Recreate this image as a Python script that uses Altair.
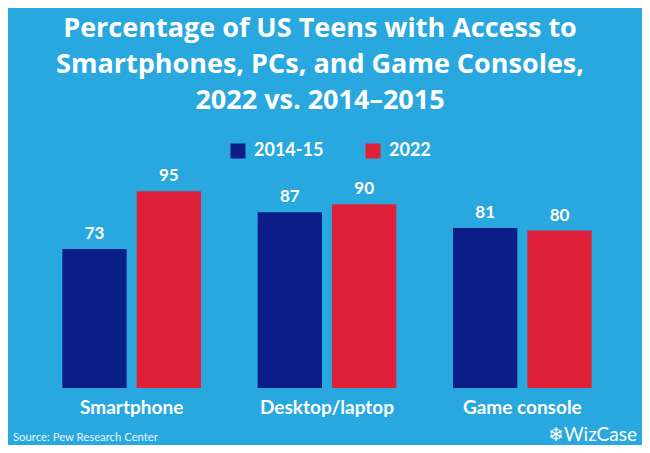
import altair as alt
import pandas as pd

categories = ["Smartphone", "Desktop/laptop", "Game console"]
years = ["2014-15", "2022"]
values_2014_15 = [73, 87, 81]
values_2022 = [95, 90, 80]

title_lines = ["Percentage of US Teens with Access to",
               "Smartphones, PCs, and Game Consoles,",
               "2022 vs. 2014\u20132015"]
source_text = "Source: Pew Research Center"
logo_text = "\u2744WizCase"

BG = "#29A8E0"
NAVY = "#0B1D87"
RED = "#DF2039"
FONT = "Lato"
TITLE_FONT = "Open Sans"

rows = []
for c, a, b in zip(categories, values_2014_15, values_2022):
    rows.append({"category": c, "year": years[0], "value": a})
    rows.append({"category": c, "year": years[1], "value": b})
df = pd.DataFrame(rows)

base = alt.Chart(df)

x_enc = alt.X("category:N", sort=categories,
              scale=alt.Scale(paddingInner=0.29, paddingOuter=0.145),
              axis=alt.Axis(title=None, labelAngle=0, domain=False, ticks=False,
                            labelFontSize=19, labelFontWeight="bold", labelColor="white",
                            labelFont=FONT, labelPadding=10))
xo_enc = alt.XOffset("year:N", sort=years,
                     scale=alt.Scale(paddingInner=0.135, paddingOuter=0))
y_enc = alt.Y("value:Q", scale=alt.Scale(domain=[20, 100], zero=False), axis=None)

bars = base.mark_bar().encode(
    x=x_enc,
    xOffset=xo_enc,
    y=y_enc,
    y2=alt.datum(20),
    color=alt.Color("year:N", sort=years,
                    scale=alt.Scale(domain=years, range=[NAVY, RED]),
                    legend=alt.Legend(title=None, orient="none", legendX=195, legendY=-36,
                                      direction="horizontal", symbolType="square",
                                      symbolSize=225, symbolStrokeWidth=0,
                                      symbolOpacity=1,
                                      labelFontSize=18, labelFontWeight="bold",
                                      labelColor="white", labelFont=FONT,
                                      columnPadding=40, labelOffset=7, padding=0)),
)

labels = base.mark_text(dy=-6, baseline="bottom", fontSize=17, fontWeight="bold",
                        color="white", font=FONT).encode(
    x=alt.X("category:N", sort=categories),
    xOffset=alt.XOffset("year:N", sort=years),
    y=alt.Y("value:Q"),
    text=alt.Text("value:Q"),
)

src = alt.Chart(pd.DataFrame({"t": [source_text]})).mark_text(
    align="left", baseline="alphabetic", fontSize=11.3, color="white", font=FONT, opacity=0.9
).encode(x=alt.value(-21), y=alt.value(263), text="t:N")

logo = alt.Chart(pd.DataFrame({"t": [logo_text]})).mark_text(
    align="right", baseline="alphabetic", fontSize=19, color="white", font=FONT,
    fontWeight="normal"
).encode(x=alt.value(603), y=alt.value(263), text="t:N")

chart = alt.layer(bars, labels, src, logo).properties(
    width=586, height=210,
    autosize="none",
    padding={"left": 26, "top": 170, "right": 22, "bottom": 57},
    title=alt.Title(title_lines, fontSize=27, font=TITLE_FONT, fontWeight="bold", color="white",
                    lineHeight=36, anchor="middle", dx=-7, offset=6, baseline="alphabetic"),
).configure(background=BG).configure_view(stroke=None)

chart.save("out.html", embed_options={"renderer": "svg", "actions": False})
